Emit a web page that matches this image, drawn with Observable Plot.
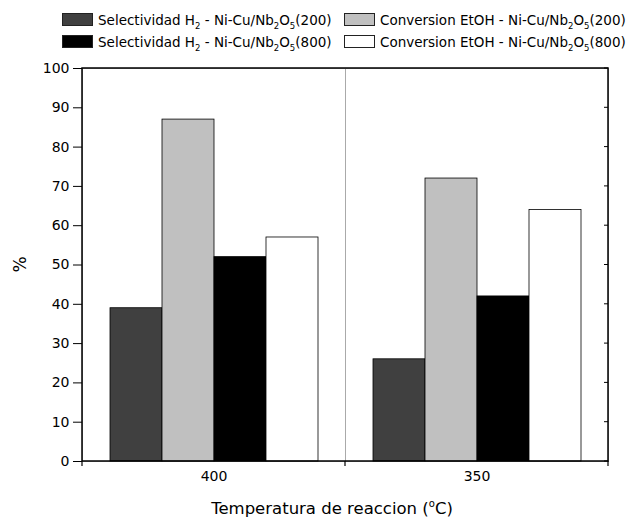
<!DOCTYPE html>
<html>
<head>
<meta charset="utf-8">
<script src="https://cdn.jsdelivr.net/npm/d3@7"></script>
<script src="https://cdn.jsdelivr.net/npm/@observablehq/plot@0.6"></script>
<style>
  body { margin: 0; background: #fff; font-family: "DejaVu Sans", sans-serif; }
  #wrap { position: relative; width: 629px; height: 518px; overflow: hidden; }
  #legend { position: absolute; left: 0; top: 0; width: 629px; height: 60px; font-size: 13.5px; color: #000; }
  .item { position: absolute; display: flex; align-items: center; white-space: nowrap; }
  .sw { width: 31px; height: 13px; border: 1px solid #222; margin-right: 5px; box-sizing: border-box; flex: none; }
  sub { font-size: 8.5px; vertical-align: -4px; line-height: 0; }
</style>
</head>
<body>
<div id="wrap">
  <div id="chart"></div>
  <div id="legend"></div>
</div>
<script>
const temps = ["400", "350"];
const series = [
  "Selectividad H2 - Ni-Cu/Nb2O5(200)",
  "Conversion EtOH - Ni-Cu/Nb2O5(200)",
  "Selectividad H2 - Ni-Cu/Nb2O5(800)",
  "Conversion EtOH - Ni-Cu/Nb2O5(800)"
];
const seriesHtml = [
  "Selectividad H<sub>2</sub> - Ni-Cu/Nb<sub>2</sub>O<sub>5</sub>(200)",
  "Conversion EtOH - Ni-Cu/Nb<sub>2</sub>O<sub>5</sub>(200)",
  "Selectividad H<sub>2</sub> - Ni-Cu/Nb<sub>2</sub>O<sub>5</sub>(800)",
  "Conversion EtOH - Ni-Cu/Nb<sub>2</sub>O<sub>5</sub>(800)"
];
const colors = ["#404040", "#c0c0c0", "#000000", "#ffffff"];
const sel200 = [39, 26];
const conv200 = [87, 72];
const sel800 = [52, 42];
const conv800 = [57, 64];
const yTicks = [0, 10, 20, 30, 40, 50, 60, 70, 80, 90, 100];

(function () {
const seriesValues = [sel200, conv200, sel800, conv800];
const data = [];
temps.forEach((t, i) => series.forEach((s, j) => data.push({temp: t, series: s, value: seriesValues[j][i]})));

const mL = 82, mR = 21;
const plot = Plot.plot({
  width: 629,
  height: 518,
  marginTop: 68,
  marginBottom: 57,
  marginLeft: mL,
  marginRight: mR,
  style: {fontFamily: "DejaVu Sans, sans-serif", fontSize: "14px", color: "#000", background: "#fff"},
  fx: {domain: temps, padding: 0, label: null, tickSize: 0, tickPadding: 10},
  x: {domain: series, paddingInner: 0, paddingOuter: 0.5, axis: null},
  y: {domain: [0, 100], ticks: yTicks, tickSize: 9, tickPadding: 4, label: null},
  color: {domain: series, range: colors},
  marks: [
    Plot.frame({stroke: "#aaa", strokeWidth: 1}),
    Plot.barY(data, {fx: "temp", x: "series", y: "value", fill: "series", stroke: "#000", strokeWidth: 0.8})
  ]
});
document.getElementById("chart").appendChild(plot);

const svg = d3.select(plot);
const y = plot.scale("y");
const left = mL, right = 629 - mR;
const yTop = y.apply(100), yBottom = y.apply(0);
const g = svg.append("g");
g.append("rect").attr("x", left).attr("y", yTop).attr("width", right - left).attr("height", yBottom - yTop)
  .attr("fill", "none").attr("stroke", "#000").attr("stroke-width", 1.5);
const bounds = [left, (left + right) / 2, right];
bounds.forEach(b => g.append("line").attr("x1", b).attr("x2", b).attr("y1", yBottom).attr("y2", yBottom + 5).attr("stroke", "#000").attr("stroke-width", 1.2));
yTicks.forEach(v => g.append("line").attr("x1", right).attr("x2", right - 4).attr("y1", y.apply(v)).attr("y2", y.apply(v)).attr("stroke", "#000").attr("stroke-width", 1));
g.append("text").attr("transform", `translate(26,${(yTop + yBottom) / 2}) rotate(-90)`)
  .attr("text-anchor", "middle").attr("font-size", 17).attr("fill", "#000").text("%");
const xt = g.append("text").attr("x", (left + right) / 2 - 13).attr("y", 514).attr("text-anchor", "middle")
  .attr("font-size", 16.5).attr("fill", "#000");
xt.append("tspan").text("Temperatura de reaccion (");
xt.append("tspan").attr("font-size", 10).attr("dy", -7).text("o");
xt.append("tspan").attr("dy", 7).text("C)");

const legend = document.getElementById("legend");
const pos = [[62, 19.5], [344, 19.5], [62, 41.5], [344, 41.5]];
series.forEach((s, i) => {
  const d = document.createElement("div");
  d.className = "item";
  d.style.left = pos[i][0] + "px";
  d.style.top = (pos[i][1] - 9) + "px";
  d.style.height = "18px";
  d.innerHTML = `<span class="sw" style="background:${colors[i]}"></span><span>${seriesHtml[i]}</span>`;
  legend.appendChild(d);
});
})();
</script>
</body>
</html>
